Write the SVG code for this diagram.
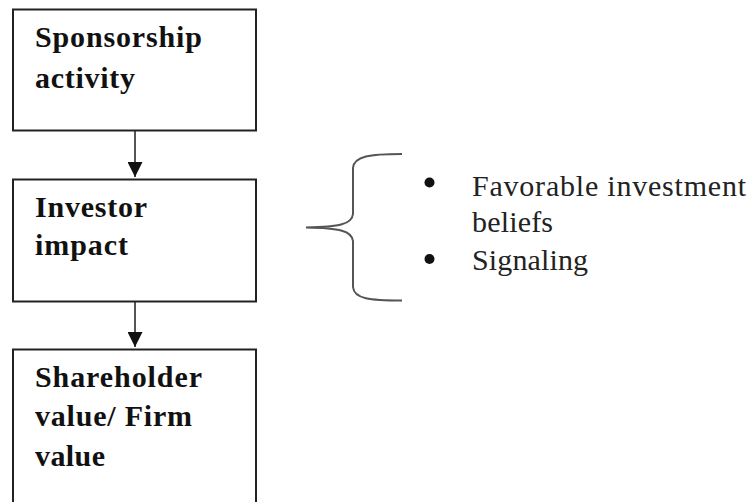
<svg xmlns="http://www.w3.org/2000/svg" width="754" height="502" viewBox="0 0 754 502">
<style>
.box{fill:#fff;stroke:#222;stroke-width:2}
.bt{font-family:'Liberation Serif','Times New Roman','DejaVu Serif',serif;font-weight:bold;font-size:30px;fill:#111}
.rt{font-family:'Liberation Serif','Times New Roman','DejaVu Serif',serif;font-size:30px;fill:#222}
.conn{stroke:#555;stroke-width:2;fill:none}
.brace{stroke:#555;stroke-width:2;fill:none}
</style>
<defs>
<marker id="ah" markerWidth="15" markerHeight="15" viewBox="0 0 15 15" refX="15" refY="7.5" orient="auto" markerUnits="userSpaceOnUse">
<path d="M0,0 L15,7.5 L0,15 Z" fill="#111"/>
</marker>
</defs>
<rect width="754" height="502" fill="#fff"/>
<g id="connectors">
<line class="conn" x1="135" y1="131" x2="135" y2="177" marker-end="url(#ah)"/>
<line class="conn" x1="135" y1="302" x2="135" y2="347" marker-end="url(#ah)"/>
</g>
<g id="node-sponsorship">
<rect class="box" x="13" y="9.5" width="243" height="121"/>
<text class="bt" x="35" y="46.5" textLength="167" lengthAdjust="spacing">Sponsorship</text>
<text class="bt" x="35" y="87.5" textLength="100" lengthAdjust="spacing">activity</text>
</g>
<g id="node-investor">
<rect class="box" x="13" y="179.5" width="243" height="122"/>
<text class="bt" x="35" y="217" textLength="112" lengthAdjust="spacing">Investor</text>
<text class="bt" x="35" y="255" textLength="93" lengthAdjust="spacing">impact</text>
</g>
<g id="node-shareholder">
<rect class="box" x="13" y="349.5" width="243" height="170"/>
<text class="bt" x="35" y="387" textLength="167" lengthAdjust="spacing">Shareholder</text>
<text class="bt" x="35" y="426" textLength="157" lengthAdjust="spacing">value/ Firm</text>
<text class="bt" x="35" y="465.5" textLength="70" lengthAdjust="spacing">value</text>
</g>
<g id="brace-list">
<path class="brace" d="M402,154 C370,154 354,156 353,168 L353,214 C352,224 340,227 306,227.5 C340,228 352,231 353,241 L353,287 C354,299 370,300.5 402,300.5"/>
<circle cx="429.5" cy="182.5" r="5" fill="#111"/>
<circle cx="429.5" cy="259" r="5" fill="#111"/>
<text class="rt" x="472" y="195.5" textLength="274" lengthAdjust="spacing">Favorable investment</text>
<text class="rt" x="472" y="231.5" textLength="81" lengthAdjust="spacing">beliefs</text>
<text class="rt" x="472" y="270" textLength="116" lengthAdjust="spacing">Signaling</text>
</g>
</svg>
